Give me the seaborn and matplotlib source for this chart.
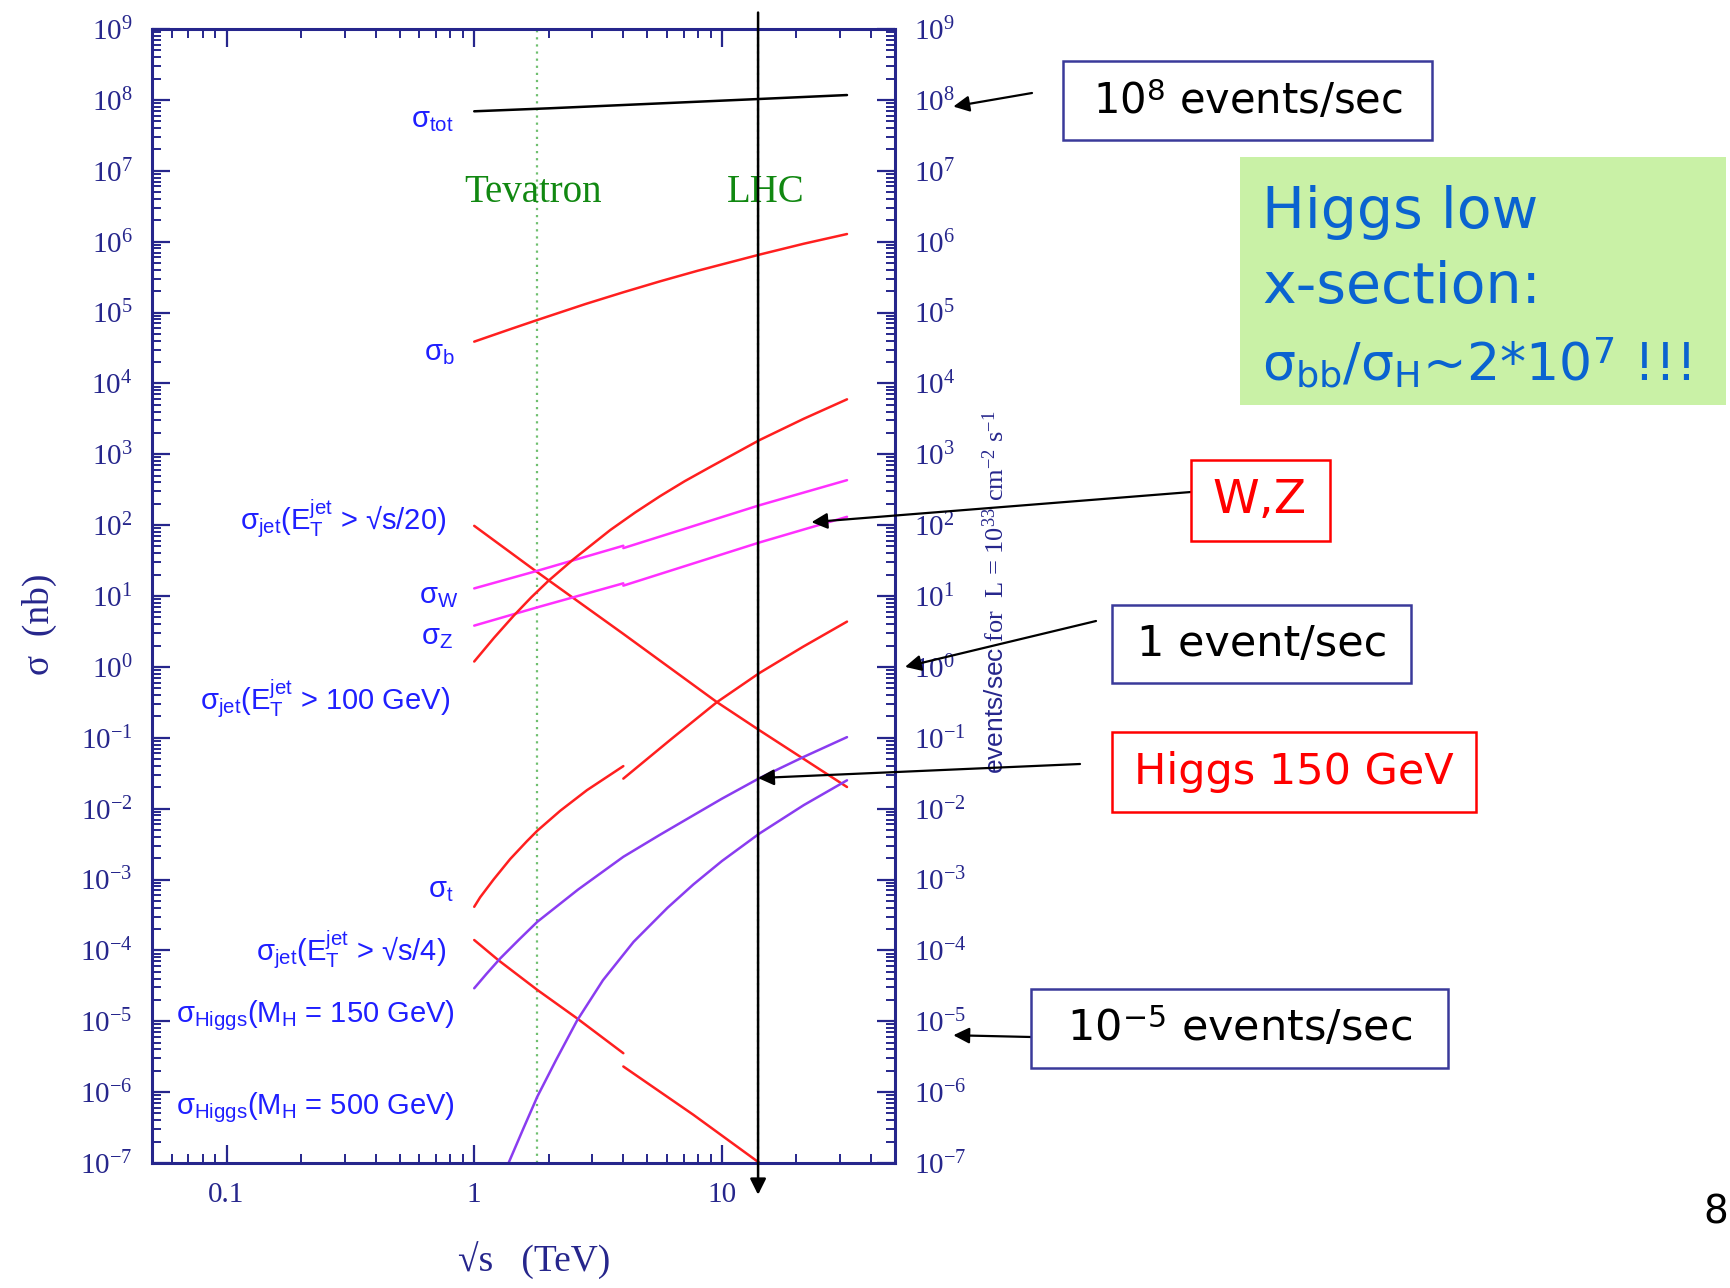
import numpy as np
import pandas as pd
import matplotlib
matplotlib.use("Agg")
import matplotlib.pyplot as plt
import seaborn as sns
from matplotlib.patches import Rectangle
from matplotlib.ticker import LogLocator, NullFormatter, LogFormatterMathtext

# ---------------- data: sqrt(s) in TeV, sigma in nb ----------------
tot_x = [1.0, 2.0, 14.2, 32.0]
tot_y = [6.9e7, 7.6e7, 1.03e8, 1.17e8]

b_x = [1.0, 1.413, 1.80, 2.818, 4.0, 5.623, 8.0, 14.19, 21.38, 32.0]
b_y = [3.88e4, 5.89e4, 7.85e4, 1.32e5, 1.93e5, 2.75e5, 3.89e5, 6.56e5, 9.33e5, 1.28e6]

jet20_x = [1.0, 1.8, 4.0, 9.55, 14.2, 32.0]
jet20_y = [97.7, 21.6, 2.92, 0.318, 0.127, 0.0202]

W_ppbar_x = [1.0, 1.8, 4.0]
W_ppbar_y = [12.8, 22.7, 51.2]
W_pp_x = [4.0, 14.2, 32.0]
W_pp_y = [47.4, 191.0, 431.0]

Z_ppbar_x = [1.0, 1.8, 4.0]
Z_ppbar_y = [3.82, 6.93, 15.1]
Z_pp_x = [4.0, 14.2, 32.0]
Z_pp_y = [14.0, 57.0, 131.0]

jet100_x = [1.0, 1.202, 1.442, 1.698, 1.995, 2.518, 3.540, 4.467, 5.636, 7.079, 8.974,
            14.19, 21.38, 32.0]
jet100_y = [1.19, 2.57, 5.25, 9.55, 16.4, 33.1, 85.1, 151.0, 257.0, 417.0, 661.0,
            1585.0, 3162.0, 5957.0]

t_ppbar_x = [1.0, 1.057, 1.197, 1.398, 1.632, 1.80, 2.225, 2.851, 4.0]
t_ppbar_y = [4.12e-4, 5.62e-4, 1.0e-3, 1.95e-3, 3.47e-3, 4.90e-3, 9.33e-3, 1.82e-2, 3.98e-2]
t_pp_x = [4.0, 6.2, 9.55, 14.2, 21.3, 32.0]
t_pp_y = [2.65e-2, 9.38e-2, 0.318, 0.822, 1.93, 4.35]

jet4_ppbar_x = [1.0, 1.25, 1.8, 2.6, 4.0]
jet4_ppbar_y = [1.40e-4, 7.3e-5, 2.76e-5, 1.10e-5, 3.54e-6]
jet4_pp_x = [4.0, 7.67, 14.2]
jet4_pp_y = [2.30e-6, 4.79e-7, 1.0e-7]

h150_x = [1.0, 1.122, 1.274, 1.514, 1.80, 2.63, 4.0, 5.62, 7.67, 10.0, 14.2, 21.4, 32.0]
h150_y = [2.92e-5, 4.68e-5, 7.71e-5, 1.41e-4, 2.54e-4, 7.24e-4, 2.09e-3, 4.27e-3,
          8.05e-3, 1.38e-2, 2.70e-2, 5.37e-2, 0.102]

h500_x = [1.376, 1.585, 1.80, 2.138, 2.60, 3.311, 4.40, 6.026, 7.67, 10.0, 14.2, 21.4, 32.0]
h500_y = [1.0e-7, 3.16e-7, 8.71e-7, 2.82e-6, 1.02e-5, 3.80e-5, 1.32e-4, 3.98e-4,
          8.51e-4, 1.82e-3, 4.47e-3, 1.12e-2, 2.51e-2]

tevatron_x = 1.8
lhc_x = 14.0
y_decades = list(range(-7, 10))
x_major = [0.1, 1, 10]
x_major_labels = ["0.1", "1", "10"]

# ---------------- style ----------------
sns.set_theme(style="white")
plt.rcParams["font.family"] = ["Liberation Serif", "DejaVu Serif"]
plt.rcParams["mathtext.fontset"] = "custom"
plt.rcParams["mathtext.rm"] = "Liberation Serif"
plt.rcParams["mathtext.sf"] = "Liberation Sans"
plt.rcParams["mathtext.it"] = "Liberation Serif:italic"
plt.rcParams["mathtext.bf"] = "Liberation Serif:bold"

NAVY = "#26268c"
BLUE = "#1f1fff"
RED = "#ff1f1f"
MAG = "#ff30ff"
PUR = "#8a3cf0"
GREEN = "#118811"
SANS = ["Liberation Sans", "DejaVu Sans"]
BOXF = ["DejaVu Sans"]

W, H = 1731, 1288
fig = plt.figure(figsize=(W / 100, H / 100), dpi=100)
fig.patch.set_facecolor("white")
ax = fig.add_axes([152 / W, 1 - 1163 / H, (895 - 152) / W, (1163 - 29) / H])
ax.set_facecolor("white")
ax.set_xscale("log")
ax.set_yscale("log")

curves = [
    (tot_x, tot_y, "black"),
    (b_x, b_y, RED),
    (jet20_x, jet20_y, RED),
    (W_ppbar_x, W_ppbar_y, MAG), (W_pp_x, W_pp_y, MAG),
    (Z_ppbar_x, Z_ppbar_y, MAG), (Z_pp_x, Z_pp_y, MAG),
    (jet100_x, jet100_y, RED),
    (t_ppbar_x, t_ppbar_y, RED), (t_pp_x, t_pp_y, RED),
    (jet4_ppbar_x, jet4_ppbar_y, RED), (jet4_pp_x, jet4_pp_y, RED),
    (h150_x, h150_y, PUR),
    (h500_x, h500_y, PUR),
]
for xs, ys, c in curves:
    df = pd.DataFrame({"x": xs, "y": ys})
    sns.lineplot(data=df, x="x", y="y", ax=ax, color=c, linewidth=1.8,
                 sort=False, estimator=None)

ax.set_xlim(0.05, 50)
ax.set_ylim(1e-7, 1e9)
ax.set_xlabel("")
ax.set_ylabel("")

# collider lines
ax.axvline(tevatron_x, color="#6fbf6f", ls=(0, (1, 2.2)), lw=1.6, zorder=1)
ax.axvline(lhc_x, color="#6fbf6f", ls=(0, (1, 2.2)), lw=1.6, zorder=1)
ax.annotate("", xy=(lhc_x, -0.028), xytext=(lhc_x, 1.0145),
            xycoords=("data", "axes fraction"), textcoords=("data", "axes fraction"),
            arrowprops=dict(arrowstyle="-|>,head_length=0.6,head_width=0.3", color="black",
                            lw=1.8, mutation_scale=16, shrinkA=0, shrinkB=0),
            annotation_clip=False, zorder=6)

# ticks
ax.set_yticks([10.0 ** d for d in y_decades])
ax.yaxis.set_major_formatter(LogFormatterMathtext())
ax.yaxis.set_minor_locator(LogLocator(base=10, subs=np.arange(2, 10), numticks=100))
ax.yaxis.set_minor_formatter(NullFormatter())
ax.set_xticks(x_major, labels=x_major_labels)
ax.xaxis.set_minor_locator(LogLocator(base=10, subs=np.arange(2, 10), numticks=100))
ax.xaxis.set_minor_formatter(NullFormatter())
ax.tick_params(which="both", direction="in", top=True, right=True, bottom=True, left=True,
               labelright=True, color=NAVY, labelcolor=NAVY)
ax.tick_params(which="major", length=13, width=1.6, labelsize=21, pad=14)
ax.tick_params(which="minor", length=6.5, width=1.4)
for s in ax.spines.values():
    s.set_color(NAVY)
    s.set_linewidth(2.2)
    s.set_visible(True)

# axis titles
ax.text(-0.152, 0.475, "σ  (nb)", transform=ax.transAxes, rotation=90, ha="center",
        va="center", fontsize=27, color=NAVY)
ax.text(0.514, -0.0864, "√s   (TeV)", transform=ax.transAxes, ha="center", va="center",
        fontsize=27, color=NAVY)
ax.text(1.135, 0.503,
        r"$\mathsf{events/sec}$ for  L = 10$^{\mathdefault{33}}$ cm$^{\mathdefault{-2}}$ s$^{\mathdefault{-1}}$",
        transform=ax.transAxes, rotation=90, ha="center", va="center", fontsize=19, color=NAVY)

# collider names
ax.text(1.73, 4.9e6, "Tevatron", ha="center", va="center", fontsize=28, color=GREEN)
ax.text(15.1, 4.9e6, "LHC", ha="center", va="center", fontsize=28, color=GREEN)

# curve labels
labels = [
    (0.823, 5.2e7, r"σ$_{\mathdefault{tot}}$"),
    (0.838, 2.7e4, r"σ$_{\mathdefault{b}}$"),
    (0.77, 122, r"σ$_{\mathdefault{jet}}$(E$_{\mathdefault{T}}^{\mathdefault{jet}}$ > √s/20)"),
    (0.862, 10.0, r"σ$_{\mathdefault{W}}$"),
    (0.823, 2.65, r"σ$_{\mathdefault{Z}}$"),
    (0.80, 0.354, r"σ$_{\mathdefault{jet}}$(E$_{\mathdefault{T}}^{\mathdefault{jet}}$ > 100 GeV)"),
    (0.823, 7.0e-4, r"σ$_{\mathdefault{t}}$"),
    (0.77, 1.03e-4, r"σ$_{\mathdefault{jet}}$(E$_{\mathdefault{T}}^{\mathdefault{jet}}$ > √s/4)"),
    (0.838, 1.17e-5, r"σ$_{\mathdefault{Higgs}}$(M$_{\mathdefault{H}}$ = 150 GeV)"),
    (0.838, 5.96e-7, r"σ$_{\mathdefault{Higgs}}$(M$_{\mathdefault{H}}$ = 500 GeV)"),
]
for lx, ly, lt in labels:
    ax.text(lx, ly, lt, ha="right", va="center", fontsize=21, color=BLUE, family=SANS)


# ---------------- annotation boxes ----------------
def px(x, y):
    return (x / W, 1 - y / H)


def box(x0, y0, x1, y1, ec, fc="none", lw=1.8):
    r = Rectangle(px(x0, y1), (x1 - x0) / W, (y1 - y0) / H, transform=fig.transFigure,
                  fill=(fc != "none"), facecolor=fc, edgecolor=ec, lw=lw, zorder=3)
    fig.add_artist(r)


def arrow(tail, xy, coords):
    ax.annotate("", xy=xy, xycoords=coords, xytext=px(*tail), textcoords="figure fraction",
                arrowprops=dict(arrowstyle="-|>,head_length=0.6,head_width=0.3", color="black",
                                lw=1.6, mutation_scale=16, shrinkA=0, shrinkB=0),
                annotation_clip=False)


BOXNAVY = "#3a3a9a"
# 10^8 events/sec
box(1063, 61, 1432, 140, BOXNAVY)
fig.text(*px(1248, 101), r"10$^{\mathdefault{8}}$ events/sec", ha="center", va="center",
         fontsize=30, color="black", family=BOXF)
arrow((1032, 93), (1.0785, 8.05e7), ("axes fraction", "data"))

# green comment box
box(1240, 157, 1726, 405, "none", fc="#c9f1a6", lw=0)
fig.text(*px(1262, 228), "Higgs low", ha="left", va="baseline", fontsize=41,
         color="#0a63d0", family=BOXF)
fig.text(*px(1262, 303), "x-section:", ha="left", va="baseline", fontsize=41,
         color="#0a63d0", family=BOXF)
fig.text(*px(1262, 380),
         r"σ$_{\mathdefault{bb}}$/σ$_{\mathdefault{H}}$~2*10$^{\mathdefault{7}}$ !!!",
         ha="left", va="baseline", fontsize=37.5, color="#0a63d0", family=BOXF)

# W,Z
box(1191, 460, 1330, 541, "#ff0000")
fig.text(*px(1260, 500), "W,Z", ha="center", va="center", fontsize=34, color="#ff0000",
         family=BOXF)
arrow((1191, 492), (23.0, 110.0), "data")

# 1 event/sec
box(1112, 605, 1411, 683, BOXNAVY)
fig.text(*px(1262, 644), "1 event/sec", ha="center", va="center", fontsize=31,
         color="black", family=BOXF)
arrow((1096, 621), (1.0135, 1.0), ("axes fraction", "data"))

# Higgs 150 GeV
box(1112, 732, 1476, 812, "#ff0000")
fig.text(*px(1294, 772), "Higgs 150 GeV", ha="center", va="center", fontsize=31,
         color="#ff0000", family=BOXF)
arrow((1080, 764), (lhc_x, 0.027), "data")

# 10^-5 events/sec
box(1031, 989, 1448, 1068, BOXNAVY)
fig.text(*px(1240, 1028), r"10$^{\mathdefault{-5}}$ events/sec", ha="center", va="center",
         fontsize=31, color="black", family=BOXF)
arrow((1031, 1037), (1.0785, 6.35e-6), ("axes fraction", "data"))

# page number
fig.text(*px(1728, 1212), "8", ha="right", va="center", fontsize=28, color="black",
         family=BOXF)

fig.savefig("out.png", dpi=100, facecolor="white")
